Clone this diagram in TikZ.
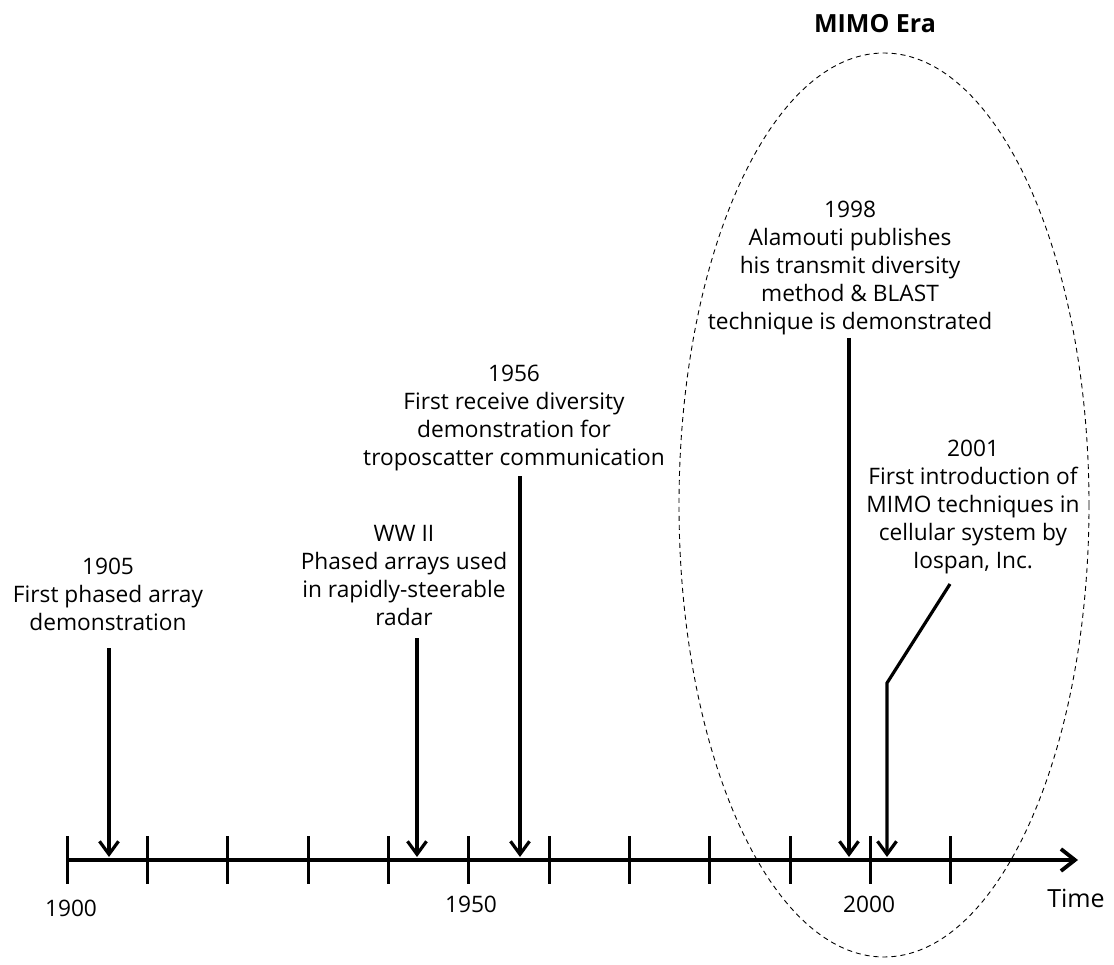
\documentclass[tikz,border=0pt]{standalone}
\usepackage{fontspec}
\setmainfont{Open Sans}
\usetikzlibrary{arrows.meta}
\begin{document}
\begin{tikzpicture}[x=1pt,y=-1pt,
  lbl/.style={align=center, inner sep=0pt, font=\fontsize{22.7}{28}\selectfont},
  yearlbl/.style={inner sep=0pt, font=\fontsize{22.7}{28}\selectfont},
  pointer/.style={line width=3.2pt, line join=miter, -{Straight Barb[length=13pt,width=19pt]}},
  axisline/.style={line width=3.8pt, -{Straight Barb[length=14pt,width=22pt]}},
  tickmark/.style={line width=3pt},
  era/.style={line width=0.9pt, dash pattern=on 5pt off 4pt}]
\useasboundingbox (0,0) rectangle (1114,965);

% MIMO era boundary
\draw[era] (884,505) ellipse [x radius=205, y radius=452];
\node[inner sep=0pt, font=\fontsize{25}{30}\selectfont\bfseries] (era) at (875,24) {MIMO Era};

% time axis with ticks every decade
\coordinate (ax0) at (67,860);
\coordinate (ax1) at (1078,860);
\draw[axisline] (ax0) -- (ax1);
\foreach \k in {0,...,11}
  \draw[tickmark] ({67+80.36*\k},836) -- ({67+80.36*\k},884);

\node[yearlbl] (y1900) at (71,908) {1900};
\node[yearlbl] (y1950) at (471,904) {1950};
\node[yearlbl] (y2000) at (869,904) {2000};
\node[yearlbl, font=\fontsize{25}{28}\selectfont] (time) at (1076,898) {Time};

% milestones
\node[lbl] (t1905) at (108,594) {1905\\First phased array\\demonstration};
\node[lbl] (tww2) at (404,576) {WW II\\Phased arrays used\\in rapidly-steerable\\radar};
\node[lbl] (t1956) at (514,418) {1956\\First receive diversity\\demonstration for\\troposcatter communication};
\node[lbl] (t1998) at (850,268) {1998\\Alamouti publishes\\his transmit diversity\\method \& BLAST\\technique is demonstrated};
\node[lbl] (t2001) at (973,507) {2001\\First introduction of\\MIMO techniques in\\cellular system by\\Iospan, Inc.};

\coordinate (s1905) at (109,648);
\coordinate (e1905) at (109,857);
\coordinate (sww2) at (417,638);
\coordinate (eww2) at (417,857);
\coordinate (s1956) at (520,476);
\coordinate (e1956) at (520,857);
\coordinate (s1998) at (849,338);
\coordinate (e1998) at (849,857);
\coordinate (s2001) at (950,584);
\coordinate (k2001) at (887,683);
\coordinate (e2001) at (887,857);

\draw[pointer] (s1905) -- (e1905);
\draw[pointer] (sww2) -- (eww2);
\draw[pointer] (s1956) -- (e1956);
\draw[pointer] (s1998) -- (e1998);
\draw[pointer] (s2001) -- (k2001) -- (e2001);
\end{tikzpicture}
\end{document}
